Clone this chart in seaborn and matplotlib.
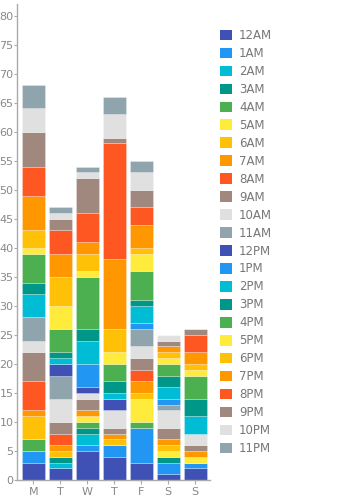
import matplotlib
matplotlib.use("Agg")
import matplotlib.pyplot as plt
import seaborn as sns
import numpy as np
import pandas as pd
from matplotlib.patches import Patch

days = ["Mon", "Tue", "Wed", "Thu", "Fri", "Sat", "Sun"]
day_labels = ["M", "T", "W", "T", "F", "S", "S"]
hours = ["12AM", "1AM", "2AM", "3AM", "4AM", "5AM", "6AM", "7AM", "8AM", "9AM", "10AM", "11AM",
         "12PM", "1PM", "2PM", "3PM", "4PM", "5PM", "6PM", "7PM", "8PM", "9PM", "10PM", "11PM"]

mon = [3, 2, 0, 0, 2, 0, 4, 1, 5, 5, 2, 4, 0, 0, 4, 2, 5, 1, 3, 6, 5, 6, 4, 4]
tue = [2, 0, 1, 1, 0, 0, 1, 1, 2, 2, 4, 4, 2, 0, 1, 1, 4, 4, 5, 4, 4, 2, 1, 1]
wed = [5, 1, 2, 1, 1, 1, 0, 1, 0, 2, 1, 0, 1, 4, 4, 2, 9, 1, 3, 2, 5, 6, 1, 1]
thu = [4, 2, 0, 0, 0, 0, 1, 1, 0, 1, 3, 0, 2, 0, 1, 2, 3, 2, 4, 12, 20, 1, 4, 3]
fri = [3, 6, 0, 0, 1, 4, 1, 2, 2, 2, 2, 3, 0, 1, 3, 1, 5, 3, 1, 4, 3, 3, 3, 2]
sat = [1, 2, 0, 1, 0, 1, 1, 1, 0, 2, 3, 1, 0, 1, 2, 2, 2, 1, 1, 1, 0, 1, 1, 0]
sun = [2, 1, 0, 0, 0, 1, 0, 1, 0, 1, 2, 0, 0, 0, 3, 3, 4, 1, 1, 2, 3, 1, 0, 0]

base_colors = ["#3F51B5", "#2196F3", "#00BCD4", "#009688", "#4CAF50", "#FFEB3B",
               "#FFC107", "#FF9800", "#FF5722", "#A1887F", "#E0E0E0", "#90A4AE"]
colors = base_colors * 2

values = np.array([mon, tue, wed, thu, fri, sat, sun])  # days x hours

sns.set_style("white")
fig = plt.figure(figsize=(3.5, 5), dpi=100)
ax = fig.add_axes([17 / 350, 20 / 500, 193 / 350, 476 / 500])

bottom = np.zeros(len(days))
for i, h in enumerate(hours):
    df = pd.DataFrame({"day": days, "v": values[:, i]})
    sns.barplot(data=df, x="day", y="v", order=days, color=colors[i], saturation=1,
                bottom=bottom, width=0.85, ax=ax, errorbar=None,
                edgecolor=(1, 1, 1, 0.35), linewidth=0.5)
    bottom = bottom + values[:, i]

ax.set_xlim(-0.61, 6.55)
ax.set_ylim(0, 82)
ax.set_yticks(range(0, 81, 5))
ax.set_xticks(range(len(days)))
ax.set_xticklabels(day_labels)
ax.set_xlabel("")
ax.set_ylabel("")

grey = "#888888"
for s in ["top", "right"]:
    ax.spines[s].set_visible(False)
for s in ["left", "bottom"]:
    ax.spines[s].set_color("#aaaaaa")
    ax.spines[s].set_linewidth(1)
ax.tick_params(axis="both", colors="#aaaaaa", labelcolor=grey, labelsize=8,
               length=2, width=0.8, direction="out", pad=0.5)
ax.tick_params(axis="x", pad=2, length=3)
ax.tick_params(axis="y", left=True)
ax.tick_params(axis="x", bottom=True)

handles = [Patch(facecolor=colors[i], edgecolor="none", label=h) for i, h in enumerate(hours)]
leg = fig.legend(handles=handles, loc="upper left", bbox_to_anchor=(220 / 350, 1 - 29 / 500),
                 frameon=False, fontsize=8.5, handlelength=1.0, handleheight=1.0,
                 handletextpad=0.6, labelspacing=0.42, borderaxespad=0, borderpad=0)
for t in leg.get_texts():
    t.set_color("#777777")

fig.savefig("out.png", dpi=100)
